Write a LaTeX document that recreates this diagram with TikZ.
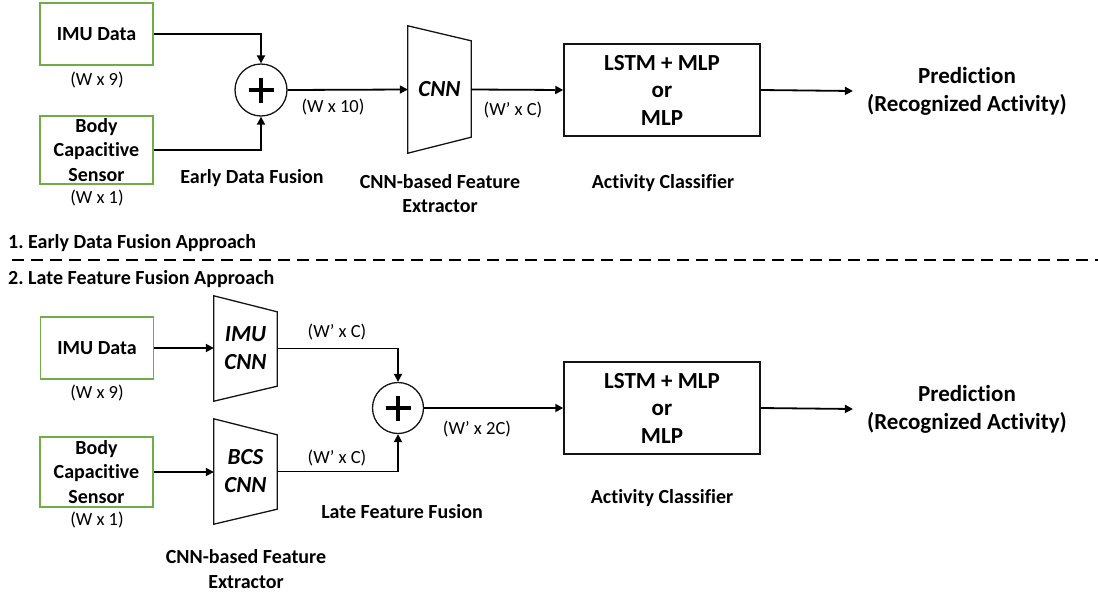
\documentclass[tikz,border=0pt]{standalone}
\usepackage{fontspec}
\setmainfont{Carlito}[Ligatures={TeX,NoCommon}]
\usetikzlibrary{arrows.meta}
\definecolor{boxgreen}{RGB}{112,173,71}
\definecolor{lineblack}{RGB}{20,20,20}
\frenchspacing
\tikzset{
  inbox/.style={draw=boxgreen, line width=1.8pt, minimum width=113pt, inner sep=0pt, align=center, font=\fontsize{20}{24.5}\selectfont\bfseries},
  dim/.style={font=\fontsize{18.5}{22}\selectfont, inner sep=0pt},
  lbl/.style={font=\fontsize{20}{24.5}\selectfont\bfseries, align=center, inner sep=0pt},
  big/.style={font=\fontsize{23}{28}\selectfont\bfseries, align=center, inner sep=0pt},
  clsbox/.style={draw=lineblack, line width=1.5pt, minimum width=196pt, minimum height=92pt, align=center, font=\fontsize{23}{27.5}\selectfont\bfseries, inner sep=0pt},
  trap/.style={minimum width=63pt, inner sep=0pt, align=center, font=\fontsize{23}{28}\selectfont\bfseries\itshape},
  trapline/.style={draw=lineblack, line width=1.3pt, line join=miter},
  sumnode/.style={circle, draw=lineblack, line width=1.3pt, minimum size=52pt, inner sep=0pt},
  plusbar/.style={line width=4.5pt, draw=black},
  arr/.style={draw=black, line width=1.8pt, -{Triangle[length=8pt,width=8pt]}},
  sect/.style={font=\fontsize{20}{24}\selectfont\bfseries, inner sep=0pt, anchor=west},
}
\begin{document}
\begin{tikzpicture}[x=1pt, y=-1pt]
\useasboundingbox (0,0) rectangle (1098,595);

% ---------- 1. Early data fusion ----------
\node[inbox, minimum height=62pt] (imu1) at (96.5,34) {IMU Data};
\node[dim] (d1) at (97,80) {(W x 9)};
\node[inbox, minimum height=68pt] (bcs1) at (96.5,150) {Body\\Capacitive\\Sensor};
\node[dim] (d2) at (97,198) {(W x 1)};

\node[sumnode] (plus1) at (261,90) {};
\draw[plusbar] ([xshift=-12.5pt]plus1.center) -- ([xshift=12.5pt]plus1.center);
\draw[plusbar] ([yshift=-12.5pt]plus1.center) -- ([yshift=12.5pt]plus1.center);
\node[lbl] (edf) at (252,178) {Early Data Fusion};
\node[dim] (d3) at (333,107) {(W x 10)};

\node[trap, minimum height=127pt] (cnn1) at (439.5,89.5) {CNN};
\draw[trapline] (cnn1.north west) -- ([yshift=-15pt]cnn1.north east) -- ([yshift=16pt]cnn1.south east) -- (cnn1.south west) -- cycle;
\node[lbl] (fe1) at (440,193.5) {CNN-based Feature\\Extractor};
\node[dim] (d4) at (513,110) {(W’ x C)};

\node[clsbox] (cls1) at (662,90) {LSTM + MLP\\or\\MLP};
\node[lbl] (ac1) at (663,183) {Activity Classifier};
\node[big] (pred1) at (967,91) {Prediction\\(Recognized Activity)};

\draw[arr] (imu1.east) -| (plus1.north);
\draw[arr] (bcs1.east) -| (plus1.south);
\draw[arr] (plus1.east) -- (cnn1.west);
\draw[arr] (cnn1.east) -- (cls1.west);
\draw[arr] (cls1.east) -- ([xshift=-14pt]pred1.west);

% ---------- separator ----------
\node[sect] (s1) at (8,243) {1. Early Data Fusion Approach};
\draw[line width=2.6pt, dash pattern=on 12pt off 7pt] (12,260) -- (1098,260);
\node[sect] (s2) at (8,279) {2. Late Feature Fusion Approach};

% ---------- 2. Late feature fusion ----------
\node[inbox, minimum height=62pt] (imu2) at (97,348) {IMU Data};
\node[dim] (d5) at (97,393) {(W x 9)};
\node[inbox, minimum height=70pt] (bcs2) at (96.5,472) {Body\\Capacitive\\Sensor};
\node[dim] (d6) at (97,520) {(W x 1)};

\node[trap, minimum height=105pt] (cnn2a) at (245.5,348.5) {IMU\\CNN};
\draw[trapline] (cnn2a.north west) -- ([yshift=-16pt]cnn2a.north east) -- ([yshift=15pt]cnn2a.south east) -- (cnn2a.south west) -- cycle;
\node[trap, minimum height=105pt] (cnn2b) at (245.5,471.5) {BCS\\CNN};
\draw[trapline] (cnn2b.north west) -- ([yshift=-16pt]cnn2b.north east) -- ([yshift=15pt]cnn2b.south east) -- (cnn2b.south west) -- cycle;
\node[lbl] (fe2) at (246,569) {CNN-based Feature\\Extractor};

\node[dim] (d7) at (337,332) {(W’ x C)};
\node[dim] (d8) at (337,458) {(W’ x C)};

\node[sumnode, minimum size=51pt] (plus2) at (398,408) {};
\draw[plusbar] ([xshift=-12.5pt]plus2.center) -- ([xshift=12.5pt]plus2.center);
\draw[plusbar] ([yshift=-12.5pt]plus2.center) -- ([yshift=12.5pt]plus2.center);
\node[lbl] (lff) at (402,512) {Late Feature Fusion};
\node[dim] (d9) at (477,429) {(W’ x 2C)};

\node[clsbox] (cls2) at (662,408) {LSTM + MLP\\or\\MLP};
\node[lbl] (ac2) at (662,498) {Activity Classifier};
\node[big] (pred2) at (967,409) {Prediction\\(Recognized Activity)};

\draw[arr] (imu2.east) -- (imu2.east -| cnn2a.west);
\draw[arr] (bcs2.east) -- (bcs2.east -| cnn2b.west);
\draw[arr] (cnn2a.east) -| (plus2.north);
\draw[arr] (cnn2b.east) -| (plus2.south);
\draw[arr] (plus2.east) -- (cls2.west);
\draw[arr] (cls2.east) -- ([xshift=-14pt]pred2.west);
\end{tikzpicture}
\end{document}
